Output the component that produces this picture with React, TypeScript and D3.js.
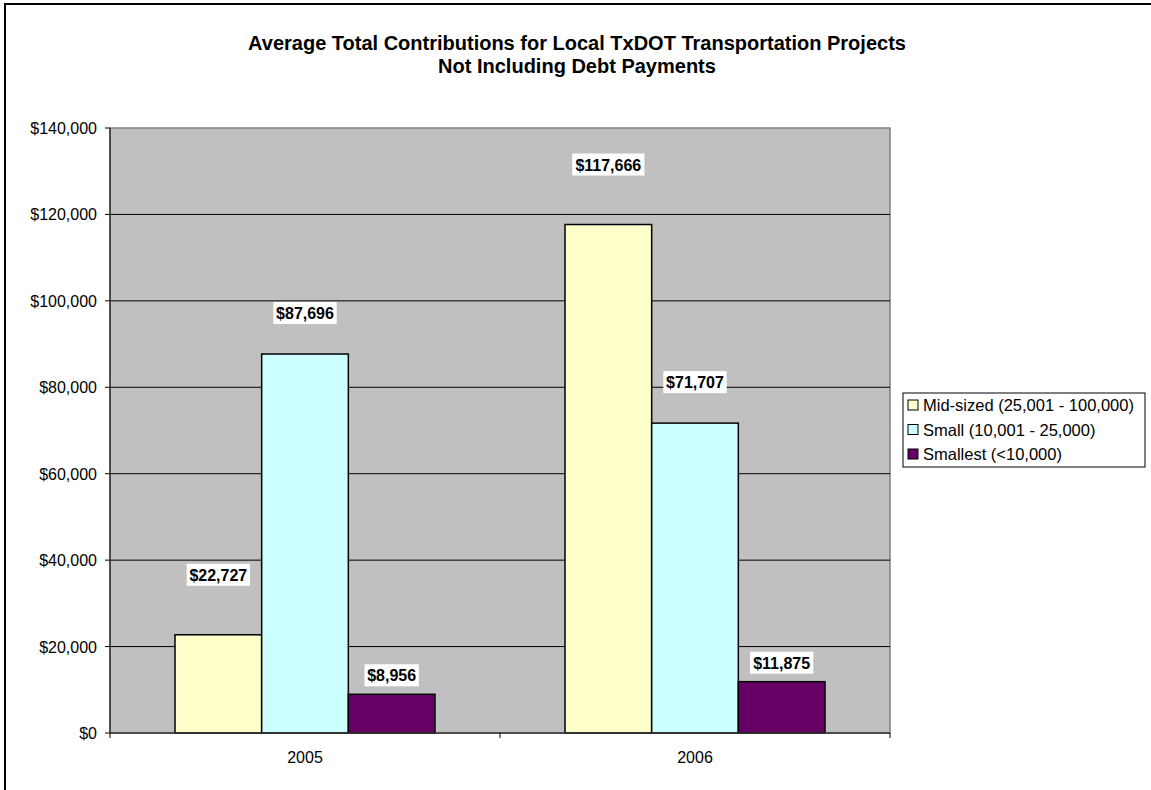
import React from "react";
import * as d3 from "d3";

const categories = ["2005", "2006"];
const seriesNames = ["Mid-sized (25,001 - 100,000)", "Small (10,001 - 25,000)", "Smallest (<10,000)"];
const midSized = [22727, 117666];
const small = [87696, 71707];
const smallest = [8956, 11875];
const yTicks = [0, 20000, 40000, 60000, 80000, 100000, 120000, 140000];
const titleLines = ["Average Total Contributions for Local TxDOT Transportation Projects", "Not Including Debt Payments"];

const colors = ["#FFFFCC", "#CCFFFF", "#660066"];
// label gap above the bar, per series (the labels were hand placed in the original)
const labelGap = [60, 41, 19];

const W = 1151;
const H = 790;
const left = 110, right = 890, top = 128, bottom = 733;
const font = "'Liberation Sans', Arial, sans-serif";

const fmt = (v: number) => "$" + d3.format(",")(v);

const App = () => {
  const values = [midSized, small, smallest];
  const x = d3.scaleBand().domain(categories).range([left, right]).padding(0);
  const xs = d3.scaleBand().domain(seriesNames).range([0, x.bandwidth()]).paddingInner(0).paddingOuter(0.75);
  const y = d3.scaleLinear().domain([0, 140000]).range([bottom, top]);

  return (
    <div style={{ position: "absolute", left: 0, top: 0 }}>
      <svg width={W} height={H} style={{ display: "block", fontFamily: font }}>
        <rect x={0} y={0} width={W} height={H} fill="#fff" />
        <rect x={5} y={4} width={W + 20} height={H + 20} fill="none" stroke="#000" strokeWidth={2} />

        {titleLines.map((t, i) => (
          <text key={t} x={577} y={50 + i * 23} textAnchor="middle" fontSize={20} fontWeight="bold">{t}</text>
        ))}

        <rect x={left} y={top} width={right - left} height={bottom - top} fill="#C0C0C0" stroke="#808080" strokeWidth={1.5} />
        {yTicks.map(t => (
          <g key={t}>
            {t > 0 && t < 140000 && <line x1={left} x2={right} y1={y(t)} y2={y(t)} stroke="#000" strokeWidth={1} />}
            <line x1={left - 5} x2={left} y1={y(t)} y2={y(t)} stroke="#000" />
            <text x={left - 13} y={y(t) + 6} textAnchor="end" fontSize={16}>{fmt(t)}</text>
          </g>
        ))}

        {categories.map((c, ci) => seriesNames.map((s, si) => {
          const v = values[si][ci];
          const bx = (x(c) as number) + (xs(s) as number);
          return (
            <rect key={c + s} x={bx} y={y(v)} width={xs.bandwidth()} height={bottom - y(v)}
              fill={colors[si]} stroke="#000" strokeWidth={1.5} />
          );
        }))}

        <line x1={left} x2={left} y1={top} y2={bottom} stroke="#333" strokeWidth={1.5} />
        <line x1={left} x2={right} y1={bottom} y2={bottom} stroke="#333" strokeWidth={1.5} />
        {[left, ...categories.map(c => (x(c) as number) + x.bandwidth())].map(px => (
          <line key={px} x1={px} x2={px} y1={bottom} y2={bottom + 5} stroke="#000" />
        ))}
        {categories.map(c => (
          <text key={c} x={(x(c) as number) + x.bandwidth() / 2} y={763} textAnchor="middle" fontSize={16}>{c}</text>
        ))}

        {categories.map((c, ci) => seriesNames.map((s, si) => {
          const v = values[si][ci];
          const cx = (x(c) as number) + (xs(s) as number) + xs.bandwidth() / 2;
          const cy = y(v) - labelGap[si];
          const label = fmt(v);
          const w = label.length * 8.9 + 1;
          return (
            <g key={"l" + c + s}>
              <rect x={cx - w / 2} y={cy - 11} width={w} height={22} fill="#fff" />
              <text x={cx} y={cy + 6} textAnchor="middle" fontSize={16} fontWeight="bold">{label}</text>
            </g>
          );
        }))}

        <rect x={903} y={393} width={242} height={74} fill="#fff" stroke="#000" strokeWidth={1} />
        {seriesNames.map((s, i) => (
          <g key={s} transform={`translate(908, ${405 + i * 24.5})`}>
            <rect x={0} y={-5} width={10} height={10} fill={colors[i]} stroke="#000" />
            <text x={15} y={6} fontSize={16.5}>{s}</text>
          </g>
        ))}
      </svg>
    </div>
  );
};

export default App;
